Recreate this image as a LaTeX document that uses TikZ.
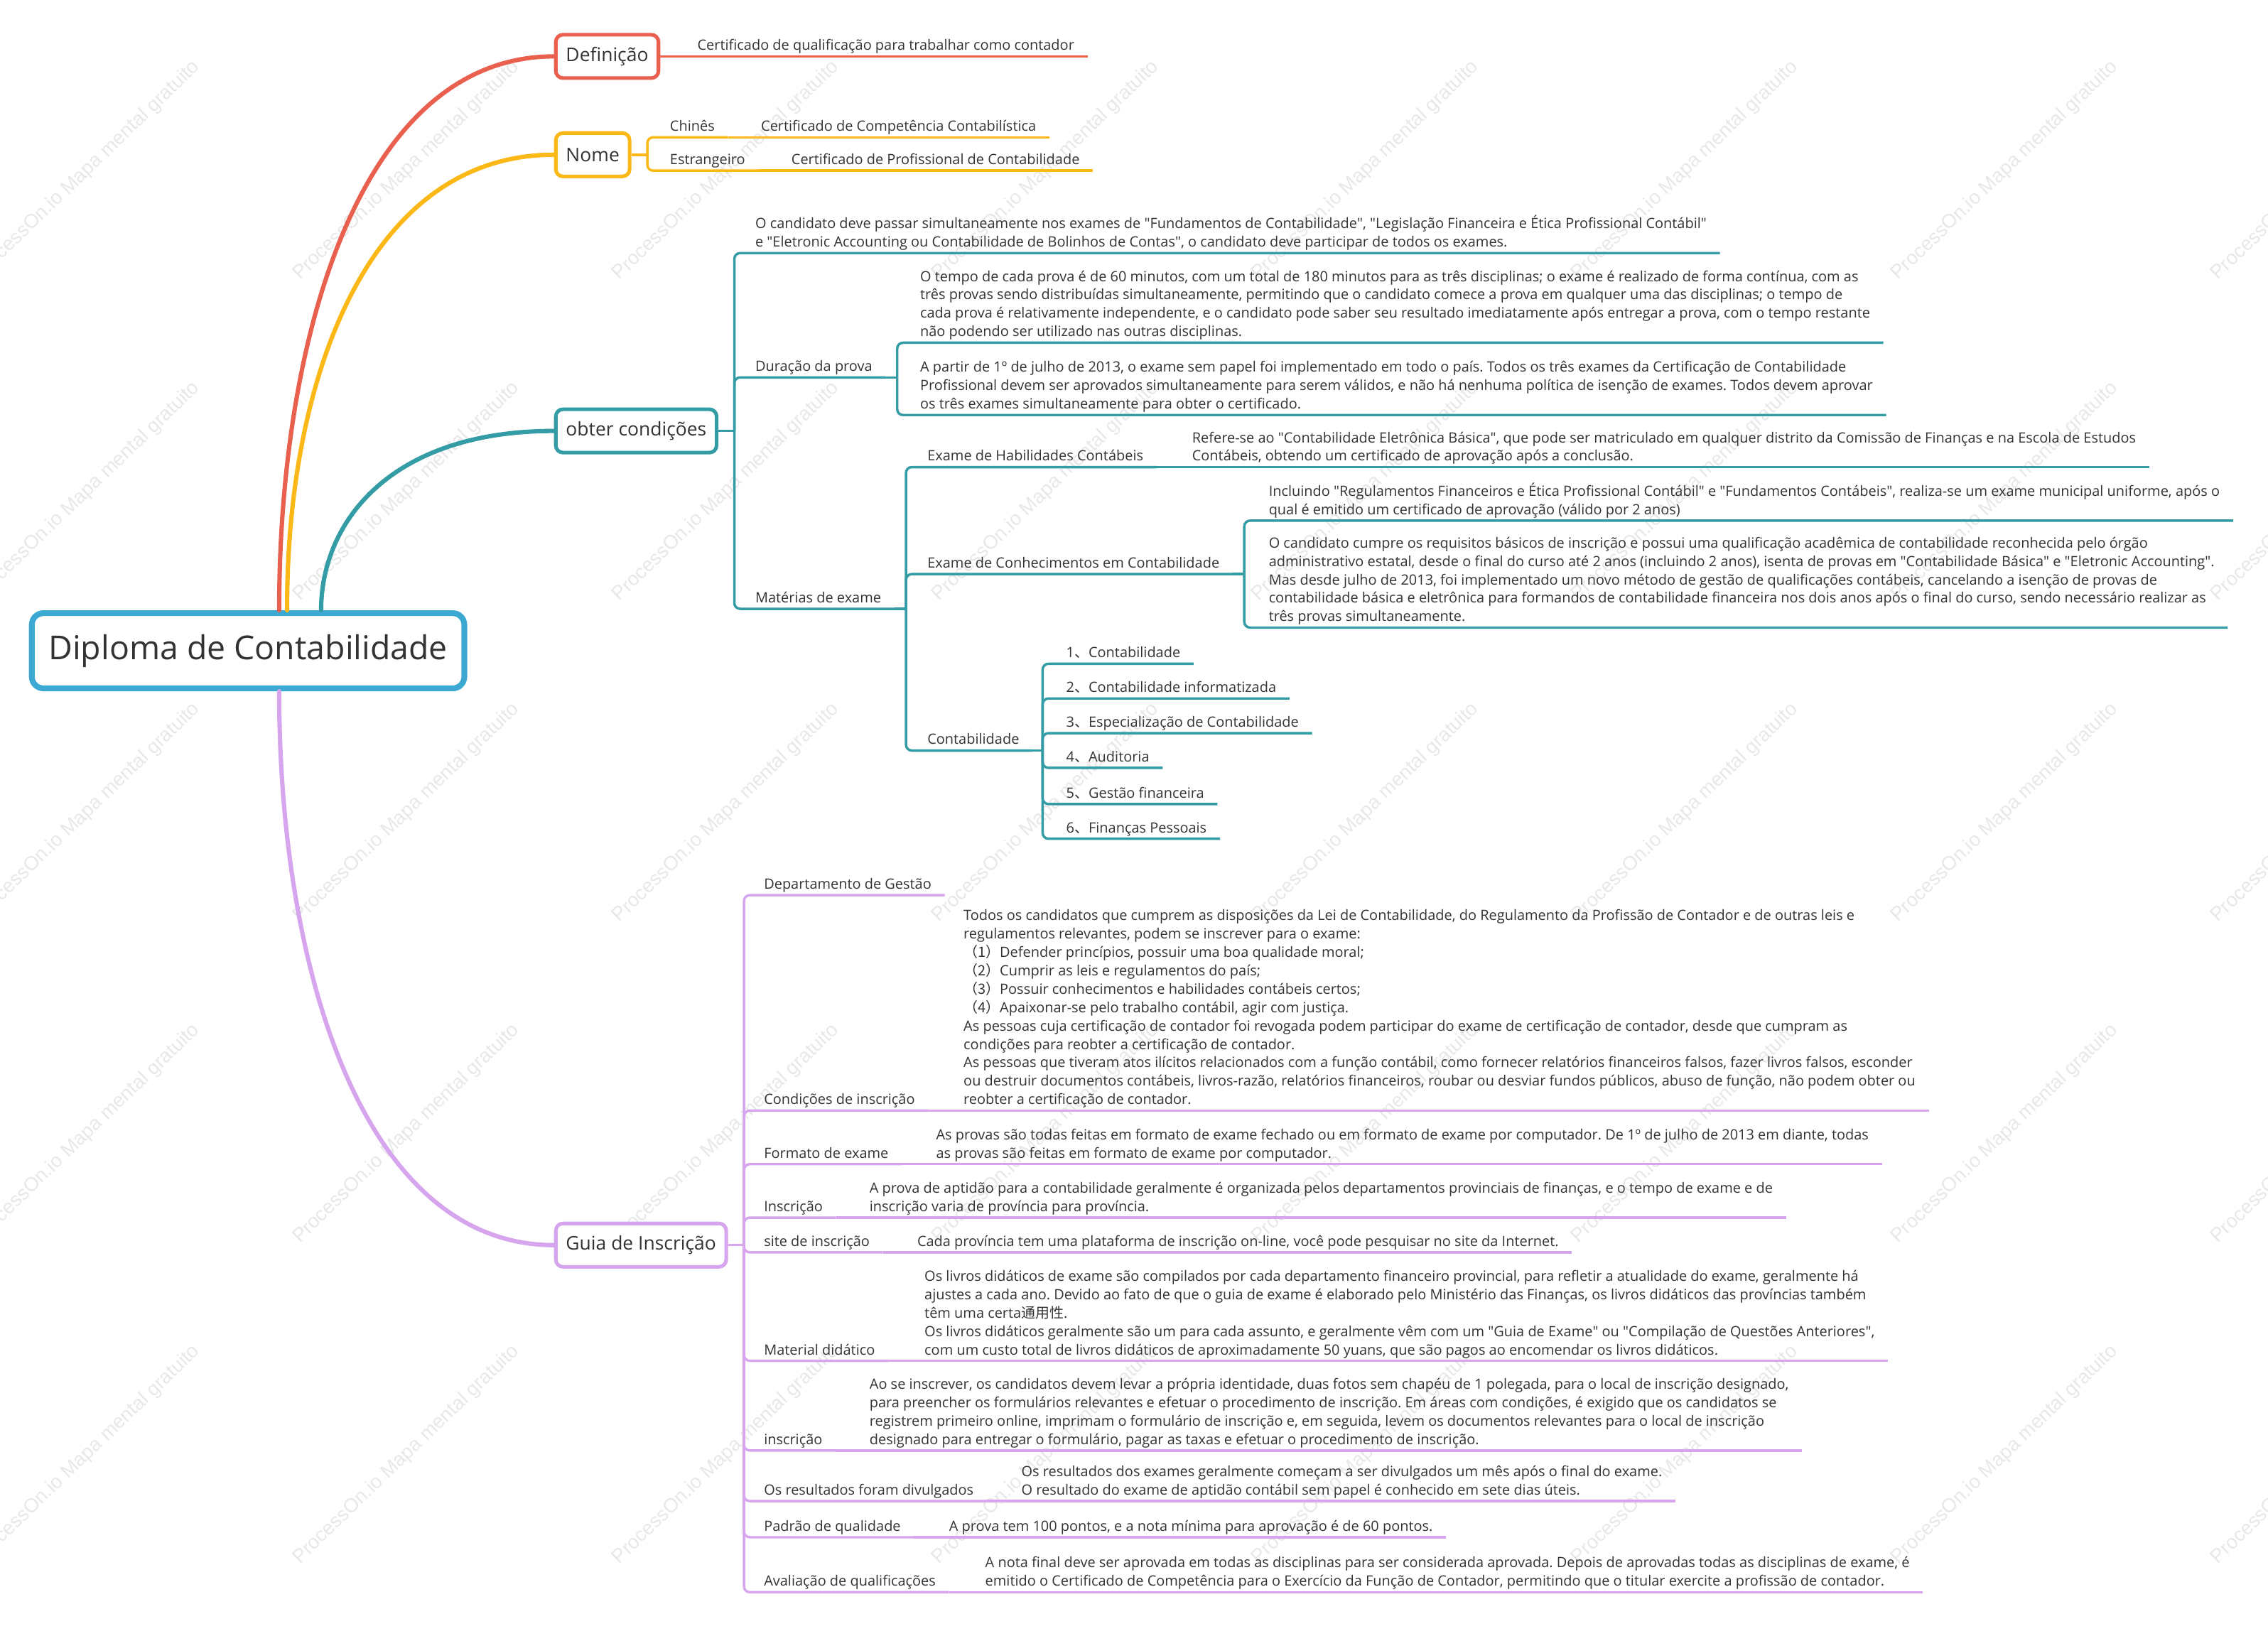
\documentclass[tikz,border=0pt]{standalone}
\usepackage{fontspec}
\setmainfont{Open Sans}
\newfontfamily\cjk{Noto Sans CJK SC}
\newfontfamily\wmfont{Liberation Sans}
\usetikzlibrary{positioning}
\frenchspacing

\definecolor{cred}{HTML}{E9604F}
\definecolor{cora}{HTML}{FBB817}
\definecolor{cteal}{HTML}{339CA5}
\definecolor{cpur}{HTML}{D6A5ED}
\definecolor{croot}{HTML}{3CA9D2}
\definecolor{ctxt}{HTML}{333333}
\newcommand\smalltxt{\fontsize{9.8}{12.75}\selectfont}
\newcommand\qq[1]{\textquotedbl#1\textquotedbl}

\begin{document}
\begin{tikzpicture}[x=1pt, y=-1pt,
    rootbox/.style={draw=croot, line width=4pt, rounded corners=8pt, fill=white, minimum width=299pt, minimum height=52pt, font=\fontsize{22.8}{26}\selectfont, text=ctxt},
    mainbox/.style={draw=#1, line width=2.5pt, rounded corners=5pt, fill=white, minimum height=30pt, inner xsep=7pt, anchor=west, font=\fontsize{13}{15}\selectfont, text=ctxt},
    topic/.style={anchor=south west, xshift=6pt, inner xsep=9pt, inner ysep=1.5pt, text depth=2.5pt, align=left, font=\smalltxt, text=ctxt},
    branch/.style={draw=#1, line width=3pt, line cap=round},
    link/.style={draw=#1, line width=1.7pt, rounded corners=4pt},
    wmark/.style={rotate=44, font=\wmfont\fontsize{13.5}{15}\selectfont, text=black!9},
]
\useasboundingbox (0,0) rectangle (1568,1131);
\fill[white] (0,0) rectangle (1568,1131);

% watermark
\foreach \cx in {60,281,502,723,944,1165,1386,1607}
  \foreach \cy in {118,340,562,784,1006}
    \node[wmark] (wm\cx-\cy) at (\cx,\cy) {ProcessOn.io Mapa mental gratuito};

% root and main topics
\node[rootbox] (root) at (171.5,450) {Diploma de Contabilidade};
\node[mainbox=cred] (def) at (383,39) {Definição};
\node[mainbox=cora] (nome) at (383,107) {Nome};
\node[mainbox=cteal] (obt) at (383,298) {obter condições};
\node[mainbox=cpur] (guia) at (383,861) {Guia de Inscrição};

\draw[branch=cred] ([xshift=21.5pt]root.north) .. controls (193,231) and (250,39) .. (def.west);
\draw[branch=cora] ([xshift=27pt]root.north) .. controls (198,265) and (253,107) .. (nome.west);
\draw[branch=cteal] ([xshift=50.5pt]root.north) .. controls (222,361) and (270,298) .. (obt.west);
\draw[branch=cpur] ([xshift=21.5pt]root.south) .. controls (193,668) and (250,861) .. (guia.west);

% Definicao
\node[topic] (def-v) at (467,39) {Certificado de qualificação para trabalhar como contador};
\draw[link=cred] (def.east) -- (def-v.south east);

% Nome
\coordinate (nomeJ) at ([xshift=11pt]nome.east);
\node[topic] (chin) at (448,95) {Chinês};
\node[topic] (chin-v) at (511,95) {Certificado de Competência Contabilística};
\node[topic] (estr) at (448,118) {Estrangeiro};
\node[topic] (estr-v) at (532,118) {Certificado de Profissional de Contabilidade};
\draw[link=cora] (nome.east) -- (nomeJ);
\draw[link=cora] (nomeJ) |- (chin.south east);
\draw[link=cora] (nomeJ) |- (estr.south east);
\draw[link=cora] (chin.south east) -- (chin-v.south east);
\draw[link=cora] (estr.south east) -- (estr-v.south east);

% obter condicoes
\coordinate (obtJ) at ([xshift=11pt]obt.east);
\node[topic] (oc1) at (507,175) {O candidato deve passar simultaneamente nos exames de \qq{Fundamentos de Contabilidade}, \qq{Legislação Financeira e Ética Profissional Contábil}\\
e \qq{Eletronic Accounting ou Contabilidade de Bolinhos de Contas}, o candidato deve participar de todos os exames.};
\node[topic] (dur) at (507,261) {Duração da prova};
\coordinate (durJ) at ([xshift=8pt]dur.south east);
\node[topic] (dur1) at (621,237) {O tempo de cada prova é de 60 minutos, com um total de 180 minutos para as três disciplinas; o exame é realizado de forma contínua, com as\\
três provas sendo distribuídas simultaneamente, permitindo que o candidato comece a prova em qualquer uma das disciplinas; o tempo de\\
cada prova é relativamente independente, e o candidato pode saber seu resultado imediatamente após entregar a prova, com o tempo restante\\
não podendo ser utilizado nas outras disciplinas.};
\node[topic] (dur2) at (621,287) {A partir de 1º de julho de 2013, o exame sem papel foi implementado em todo o país. Todos os três exames da Certificação de Contabilidade\\
Profissional devem ser aprovados simultaneamente para serem válidos, e não há nenhuma política de isenção de exames. Todos devem aprovar\\
os três exames simultaneamente para obter o certificado.};
\node[topic] (mat) at (507,421) {Matérias de exame};
\coordinate (matJ) at ([xshift=8pt]mat.south east);
\node[topic] (hab) at (626,323) {Exame de Habilidades Contábeis};
\node[topic] (hab-v) at (809,323) {Refere-se ao \qq{Contabilidade Eletrônica Básica}, que pode ser matriculado em qualquer distrito da Comissão de Finanças e na Escola de Estudos\\
Contábeis, obtendo um certificado de aprovação após a conclusão.};
\node[topic] (con) at (626,397) {Exame de Conhecimentos em Contabilidade};
\coordinate (conJ) at ([xshift=8pt]con.south east);
\node[topic] (con1) at (862,360) {Incluindo \qq{Regulamentos Financeiros e Ética Profissional Contábil} e \qq{Fundamentos Contábeis}, realiza-se um exame municipal uniforme, após o\\
qual é emitido um certificado de aprovação (válido por 2 anos)};
\node[topic] (con2) at (862,434) {O candidato cumpre os requisitos básicos de inscrição e possui uma qualificação acadêmica de contabilidade reconhecida pelo órgão\\
administrativo estatal, desde o final do curso até 2 anos (incluindo 2 anos), isenta de provas em \qq{Contabilidade Básica} e \qq{Eletronic Accounting}.\\
Mas desde julho de 2013, foi implementado um novo método de gestão de qualificações contábeis, cancelando a isenção de provas de\\
contabilidade básica e eletrônica para formandos de contabilidade financeira nos dois anos após o final do curso, sendo necessário realizar as\\
três provas simultaneamente.};
\node[topic] (cont) at (626,519) {Contabilidade};
\coordinate (contJ) at ([xshift=7pt]cont.south east);
\node[topic] (ct1) at (722,459) {1{\cjk 、}Contabilidade};
\node[topic] (ct2) at (722,483) {2{\cjk 、}Contabilidade informatizada};
\node[topic] (ct3) at (722,507) {3{\cjk 、}Especialização de Contabilidade};
\node[topic] (ct4) at (722,531) {4{\cjk 、}Auditoria};
\node[topic] (ct5) at (722,556) {5{\cjk 、}Gestão financeira};
\node[topic] (ct6) at (722,580) {6{\cjk 、}Finanças Pessoais};

\draw[link=cteal] (obt.east) -- (obtJ);
\foreach \n in {oc1,dur,mat}
  \draw[link=cteal] (obtJ) |- (\n.south east);
\draw[link=cteal] (dur.south east) -- (durJ);
\draw[link=cteal] (durJ) |- (dur1.south east);
\draw[link=cteal] (durJ) |- (dur2.south east);
\draw[link=cteal] (mat.south east) -- (matJ);
\foreach \n in {hab,con,cont}
  \draw[link=cteal] (matJ) |- (\n.south east);
\draw[link=cteal] (hab.south east) -- (hab-v.south east);
\draw[link=cteal] (con.south east) -- (conJ);
\draw[link=cteal] (conJ) |- (con1.south east);
\draw[link=cteal] (conJ) |- (con2.south east);
\draw[link=cteal] (cont.south east) -- (contJ);
\foreach \i in {1,...,6}
  \draw[link=cteal] (contJ) |- (ct\i.south east);

% Guia de Inscricao
\coordinate (guiaJ) at ([xshift=11pt]guia.east);
\node[topic] (dep) at (513,619) {Departamento de Gestão};
\node[topic] (cond) at (513,768) {Condições de inscrição};
\node[topic] (cond-v) at (651,768) {Todos os candidatos que cumprem as disposições da Lei de Contabilidade, do Regulamento da Profissão de Contador e de outras leis e\\
regulamentos relevantes, podem se inscrever para o exame:\\
{\cjk （1）}Defender princípios, possuir uma boa qualidade moral;\\
{\cjk （2）}Cumprir as leis e regulamentos do país;\\
{\cjk （3）}Possuir conhecimentos e habilidades contábeis certos;\\
{\cjk （4）}Apaixonar-se pelo trabalho contábil, agir com justiça.\\
As pessoas cuja certificação de contador foi revogada podem participar do exame de certificação de contador, desde que cumpram as\\
condições para reobter a certificação de contador.\\
As pessoas que tiveram atos ilícitos relacionados com a função contábil, como fornecer relatórios financeiros falsos, fazer livros falsos, esconder\\
ou destruir documentos contábeis, livros-razão, relatórios financeiros, roubar ou desviar fundos públicos, abuso de função, não podem obter ou\\
reobter a certificação de contador.};
\node[topic] (form) at (513,805) {Formato de exame};
\node[topic] (form-v) at (632,805) {As provas são todas feitas em formato de exame fechado ou em formato de exame por computador. De 1º de julho de 2013 em diante, todas\\
as provas são feitas em formato de exame por computador.};
\node[topic] (insc) at (513,842) {Inscrição};
\node[topic] (insc-v) at (586,842) {A prova de aptidão para a contabilidade geralmente é organizada pelos departamentos provinciais de finanças, e o tempo de exame e de\\
inscrição varia de província para província.};
\node[topic] (site) at (513,866) {site de inscrição};
\node[topic] (site-v) at (619,866) {Cada província tem uma plataforma de inscrição on-line, você pode pesquisar no site da Internet.};
\node[topic] (mdid) at (513,941) {Material didático};
\node[topic] (mdid-v) at (624,941) {Os livros didáticos de exame são compilados por cada departamento financeiro provincial, para refletir a atualidade do exame, geralmente há\\
ajustes a cada ano. Devido ao fato de que o guia de exame é elaborado pelo Ministério das Finanças, os livros didáticos das províncias também\\
têm uma certa{\cjk 通用性}.\\
Os livros didáticos geralmente são um para cada assunto, e geralmente vêm com um \qq{Guia de Exame} ou \qq{Compilação de Questões Anteriores},\\
com um custo total de livros didáticos de aproximadamente 50 yuans, que são pagos ao encomendar os livros didáticos.};
\node[topic] (insc2) at (513,1003) {inscrição};
\node[topic] (insc2-v) at (586,1003) {Ao se inscrever, os candidatos devem levar a própria identidade, duas fotos sem chapéu de 1 polegada, para o local de inscrição designado,\\
para preencher os formulários relevantes e efetuar o procedimento de inscrição. Em áreas com condições, é exigido que os candidatos se\\
registrem primeiro online, imprimam o formulário de inscrição e, em seguida, levem os documentos relevantes para o local de inscrição\\
designado para entregar o formulário, pagar as taxas e efetuar o procedimento de inscrição.};
\node[topic] (res) at (513,1038) {Os resultados foram divulgados};
\node[topic] (res-v) at (691,1038) {Os resultados dos exames geralmente começam a ser divulgados um mês após o final do exame.\\
O resultado do exame de aptidão contábil sem papel é conhecido em sete dias úteis.};
\node[topic] (pad) at (513,1063) {Padrão de qualidade};
\node[topic] (pad-v) at (641,1063) {A prova tem 100 pontos, e a nota mínima para aprovação é de 60 pontos.};
\node[topic] (aval) at (513,1101) {Avaliação de qualificações};
\node[topic] (aval-v) at (666,1101) {A nota final deve ser aprovada em todas as disciplinas para ser considerada aprovada. Depois de aprovadas todas as disciplinas de exame, é\\
emitido o Certificado de Competência para o Exercício da Função de Contador, permitindo que o titular exercite a profissão de contador.};

\draw[link=cpur] (guia.east) -- (guiaJ);
\foreach \n in {dep,cond,form,insc,site,mdid,insc2,res,pad,aval}
  \draw[link=cpur] (guiaJ) |- (\n.south east);
\foreach \n in {cond,form,insc,site,mdid,insc2,res,pad,aval}
  \draw[link=cpur] (\n.south east) -- (\n-v.south east);

\end{tikzpicture}
\end{document}
